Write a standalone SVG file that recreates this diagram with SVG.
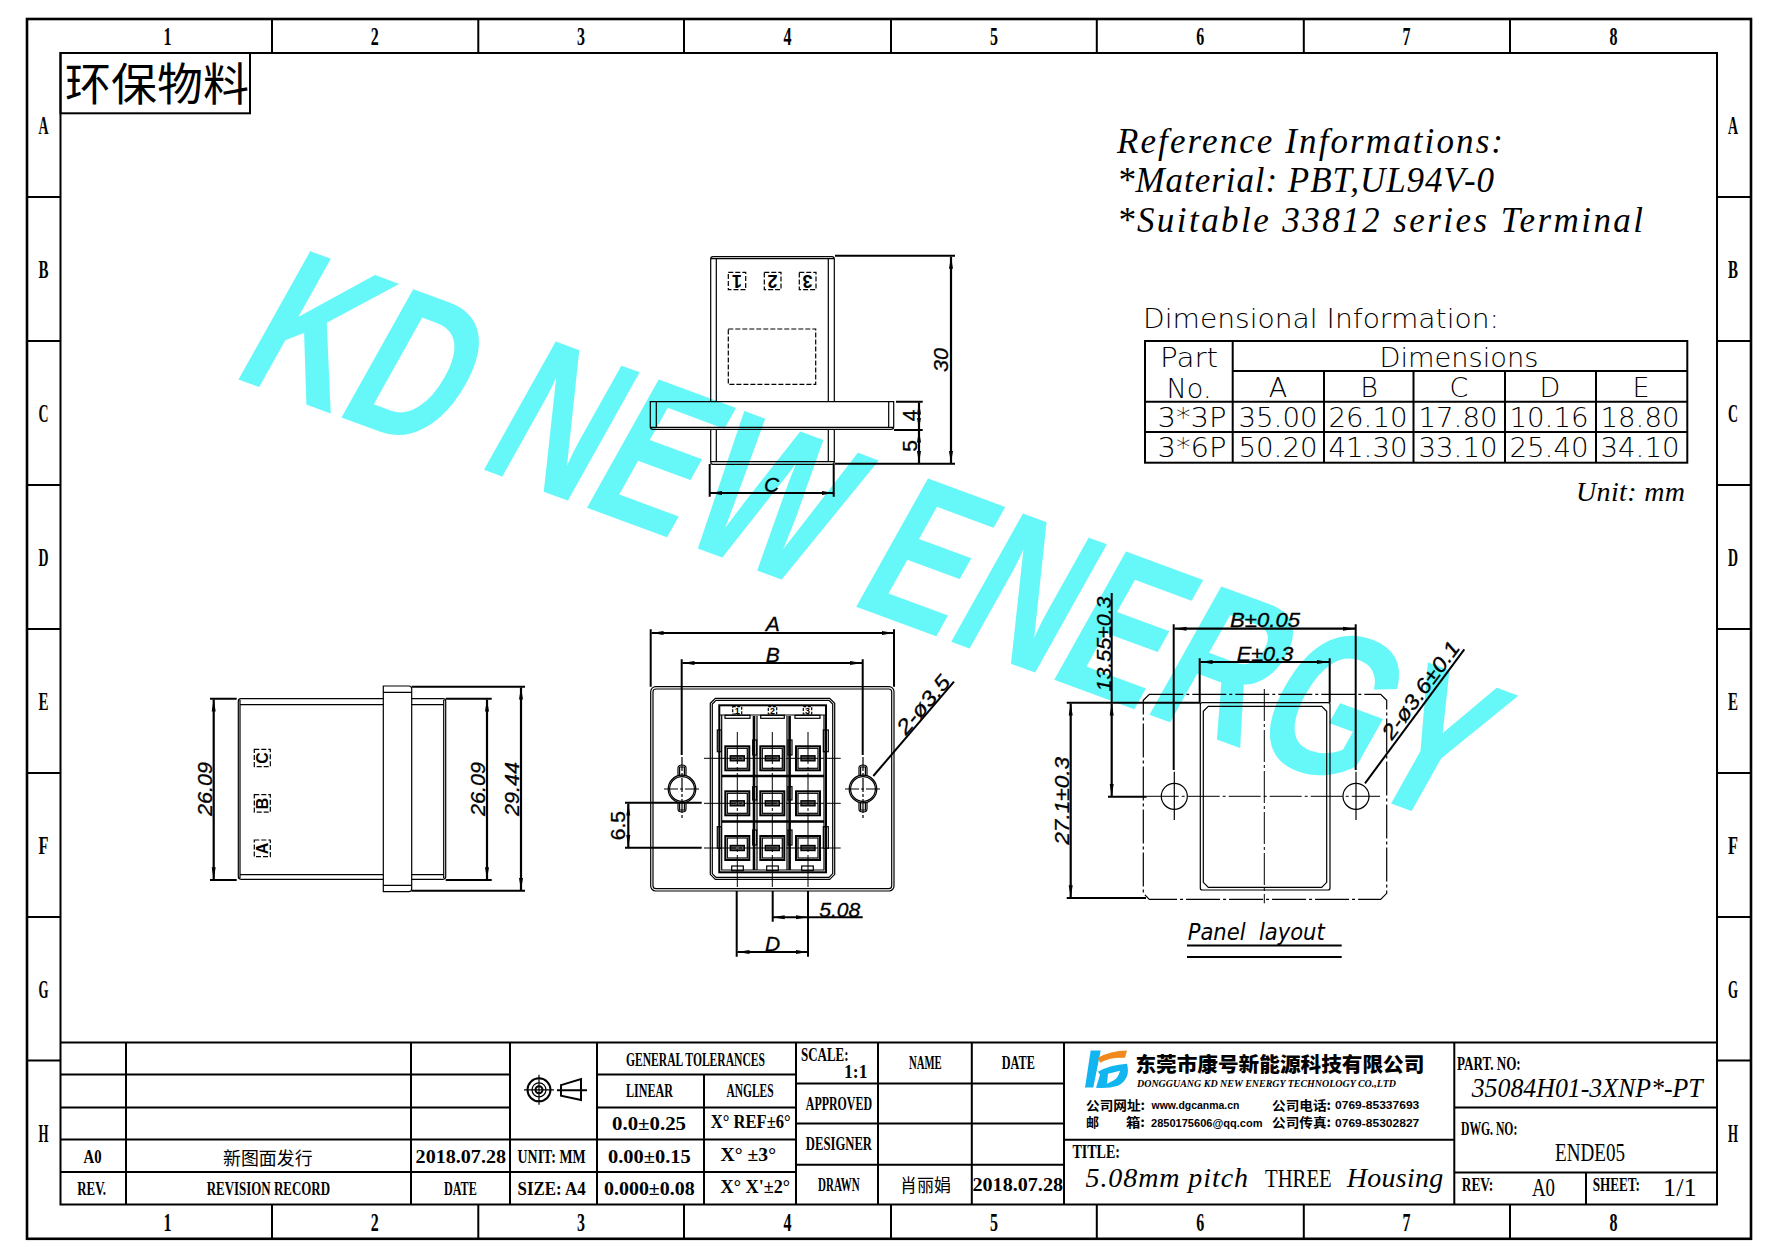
<svg xmlns="http://www.w3.org/2000/svg" width="1778" height="1257" viewBox="0 0 1778 1257">
<style>
text{fill:#000;white-space:pre}
.wm{font:700 211px "Liberation Sans",sans-serif;fill:#66f7f9}
.f{font:700 25px "Liberation Serif",serif}
.b{font:700 18px "Liberation Serif",serif}
.r{font:400 25px "Liberation Serif",serif}
.it{font:italic 400 35px "Liberation Serif",serif}
.l{font:200 27px "DejaVu Sans","Liberation Sans",sans-serif}
.d{font:italic 400 21px "Liberation Sans",sans-serif;stroke:#000;stroke-width:.3}
.c{font:400 18px "Noto Sans CJK SC",sans-serif}
.lb{font:700 13px "Noto Sans CJK SC",sans-serif}
.bs{font:700 11px "Liberation Sans",sans-serif}
.s1{stroke-width:1.2;fill:none;stroke:#000}
.s2{stroke-width:2;fill:none;stroke:#000}
.s3{stroke-width:2.6;fill:none;stroke:#000}
.dash{stroke-dasharray:5 2}
.cl{stroke-width:1;fill:none;stroke:#000;stroke-dasharray:32 3 3 3}
.dim{stroke:#000;stroke-width:2.2;fill:none;marker-start:url(#a);marker-end:url(#a)}
.ext{stroke:#000;stroke-width:2;fill:none}
</style>
<defs>
<marker id="a" markerUnits="userSpaceOnUse" markerWidth="13" markerHeight="6" refX="12" refY="3" orient="auto-start-reverse"><path d="M12,3 L0,1 L0,5 Z" fill="#000"/></marker>
<g id="term"><rect x="-12" y="-12" width="24" height="24" class="s2"/><rect x="-10" y="-10" width="20" height="20" class="s1"/><rect x="-7" y="-2.5" width="14" height="5" fill="#555" stroke="#000" stroke-width="1.4"/></g>
<g id="hole"><circle r="13.8" class="s1"/><circle r="12.4" class="s1"/><path class="s1" d="M-4,-13 V-21 Q-4,-24 0,-24 Q4,-24 4,-21 V-13 M-2.4,-13 V-22 H2.4 V-13 M-4,13 V20 Q-4,23 0,23 Q4,23 4,20 V13 M-2.4,13 V21 H2.4 V13"/></g>
</defs>

<text id="watermark" class="wm" transform="translate(229,376) rotate(20.2) skewX(-9) scale(0.72,1)">KD NEW ENERGY</text>

<g id="frame">
<rect x="27" y="19" width="1724" height="1219.8" class="s3"/>
<rect x="60.5" y="53" width="1656.5" height="1151.5" class="s2"/>
<path class="s2" d="M272,19V53M478.3,19V53M684,19V53M891,19V53M1096.8,19V53M1303.8,19V53M1510,19V53M272,1204.5V1238.8M478.3,1204.5V1238.8M684,1204.5V1238.8M891,1204.5V1238.8M1096.8,1204.5V1238.8M1303.8,1204.5V1238.8M1510,1204.5V1238.8"/>
<path class="s2" d="M27,197H61M27,341H61M27,485H61M27,629H61M27,773H61M27,917H61M27,1060.5H61M1717,197H1751M1717,341H1751M1717,485H1751M1717,629H1751M1717,773H1751M1717,917H1751M1717,1060.5H1751"/>
<g class="f" text-anchor="middle">
<text x="167.6" y="45" textLength="8" lengthAdjust="spacingAndGlyphs">1</text><text x="374.7" y="45" textLength="8" lengthAdjust="spacingAndGlyphs">2</text><text x="581" y="45" textLength="8" lengthAdjust="spacingAndGlyphs">3</text><text x="787.5" y="45" textLength="8" lengthAdjust="spacingAndGlyphs">4</text><text x="994" y="45" textLength="8" lengthAdjust="spacingAndGlyphs">5</text><text x="1200.3" y="45" textLength="8" lengthAdjust="spacingAndGlyphs">6</text><text x="1406.5" y="45" textLength="8" lengthAdjust="spacingAndGlyphs">7</text><text x="1613.5" y="45" textLength="8" lengthAdjust="spacingAndGlyphs">8</text>
<text x="167.6" y="1231" textLength="8" lengthAdjust="spacingAndGlyphs">1</text><text x="374.7" y="1231" textLength="8" lengthAdjust="spacingAndGlyphs">2</text><text x="581" y="1231" textLength="8" lengthAdjust="spacingAndGlyphs">3</text><text x="787.5" y="1231" textLength="8" lengthAdjust="spacingAndGlyphs">4</text><text x="994" y="1231" textLength="8" lengthAdjust="spacingAndGlyphs">5</text><text x="1200.3" y="1231" textLength="8" lengthAdjust="spacingAndGlyphs">6</text><text x="1406.5" y="1231" textLength="8" lengthAdjust="spacingAndGlyphs">7</text><text x="1613.5" y="1231" textLength="8" lengthAdjust="spacingAndGlyphs">8</text>
<text x="43.6" y="134" textLength="10" lengthAdjust="spacingAndGlyphs">A</text><text x="43.6" y="278" textLength="10" lengthAdjust="spacingAndGlyphs">B</text><text x="43.6" y="422" textLength="10" lengthAdjust="spacingAndGlyphs">C</text><text x="43.6" y="566" textLength="10" lengthAdjust="spacingAndGlyphs">D</text><text x="43.6" y="710" textLength="10" lengthAdjust="spacingAndGlyphs">E</text><text x="43.6" y="853.5" textLength="10" lengthAdjust="spacingAndGlyphs">F</text><text x="43.6" y="997.5" textLength="10" lengthAdjust="spacingAndGlyphs">G</text><text x="43.6" y="1142" textLength="10" lengthAdjust="spacingAndGlyphs">H</text>
<text x="1733" y="134" textLength="10" lengthAdjust="spacingAndGlyphs">A</text><text x="1733" y="278" textLength="10" lengthAdjust="spacingAndGlyphs">B</text><text x="1733" y="422" textLength="10" lengthAdjust="spacingAndGlyphs">C</text><text x="1733" y="566" textLength="10" lengthAdjust="spacingAndGlyphs">D</text><text x="1733" y="710" textLength="10" lengthAdjust="spacingAndGlyphs">E</text><text x="1733" y="853.5" textLength="10" lengthAdjust="spacingAndGlyphs">F</text><text x="1733" y="997.5" textLength="10" lengthAdjust="spacingAndGlyphs">G</text><text x="1733" y="1142" textLength="10" lengthAdjust="spacingAndGlyphs">H</text>
</g>
</g>

<g id="eco-mark">
<rect x="60.5" y="53" width="189.5" height="60.3" class="s2"/>
<text x="65" y="101" style="font:400 45px 'Noto Sans CJK SC',sans-serif" textLength="184" lengthAdjust="spacingAndGlyphs">环保物料</text>
</g>

<g id="notes">
<text class="it" x="1117" y="153" textLength="386">Reference Informations:</text>
<text class="it" x="1117" y="192" textLength="377">*Material: PBT,UL94V-0</text>
<text class="it" x="1117" y="231.5" textLength="526">*Suitable 33812 series Terminal</text>
<text class="it" x="1576" y="500.5" style="font-size:28px" textLength="109">Unit: mm</text>
</g>

<g id="dimension-table">
<text class="l" x="1143" y="327.5" textLength="356" lengthAdjust="spacingAndGlyphs">Dimensional Information:</text>
<rect x="1145" y="341" width="542.3" height="121.7" class="s2"/>
<path class="s2" d="M1232.7,341V462.7M1232.7,371H1687.3M1145,401.7H1687.3M1145,432H1687.3M1324,371V462.7M1413.5,371V462.7M1505,371V462.7M1596,371V462.7"/>
<g class="l" text-anchor="middle">
<text x="1189" y="366.5" textLength="58" lengthAdjust="spacingAndGlyphs">Part</text>
<text x="1189" y="397.7" textLength="45" lengthAdjust="spacingAndGlyphs">No.</text>
<text x="1459" y="367" textLength="159" lengthAdjust="spacingAndGlyphs">Dimensions</text>
<text x="1278" y="396.7">A</text><text x="1369" y="396.7">B</text><text x="1459" y="396.7">C</text><text x="1550" y="396.7">D</text><text x="1641" y="396.7">E</text>
<text x="1192" y="426.7" textLength="69" lengthAdjust="spacingAndGlyphs">3*3P</text>
<text x="1278" y="426.7" textLength="79" lengthAdjust="spacingAndGlyphs">35.00</text><text x="1368" y="426.7" textLength="79" lengthAdjust="spacingAndGlyphs">26.10</text><text x="1458" y="426.7" textLength="79" lengthAdjust="spacingAndGlyphs">17.80</text><text x="1549" y="426.7" textLength="79" lengthAdjust="spacingAndGlyphs">10.16</text><text x="1640" y="426.7" textLength="79" lengthAdjust="spacingAndGlyphs">18.80</text>
<text x="1192" y="457" textLength="69" lengthAdjust="spacingAndGlyphs">3*6P</text>
<text x="1278" y="457" textLength="79" lengthAdjust="spacingAndGlyphs">50.20</text><text x="1368" y="457" textLength="79" lengthAdjust="spacingAndGlyphs">41.30</text><text x="1458" y="457" textLength="79" lengthAdjust="spacingAndGlyphs">33.10</text><text x="1549" y="457" textLength="79" lengthAdjust="spacingAndGlyphs">25.40</text><text x="1640" y="457" textLength="79" lengthAdjust="spacingAndGlyphs">34.10</text>
</g>
</g>

<g id="view-top">
<path class="s1" d="M710.7,401.7V259Q710.7,256.7 713,256.7H832Q834.3,256.7 834.3,259V401.7M716.3,401.7V258.7M828.3,401.7V258.7M711,258.7H834"/>
<path class="s1" d="M710.7,429.3V462Q710.7,464.3 713,464.3H832Q834.3,464.3 834.3,462V429.3M716.3,429.3V461.7M828.3,429.3V461.7M711,461.7H834"/>
<path class="s1" d="M652,401.7H893.7V427Q893.7,429.3 891,429.3H653Q650.3,429.3 650.3,427V401.7H652M656.3,401.7V427.3M888.7,401.7V427.3M651,427.3H893"/>
<rect x="728.3" y="329" width="87.4" height="55.3" class="s1 dash"/>
<rect x="728.3" y="272.3" width="17.4" height="17.4" class="s1 dash"/>
<rect x="764.3" y="272.3" width="16.7" height="17.4" class="s1 dash"/>
<rect x="799.3" y="272.3" width="16.7" height="17.4" class="s1 dash"/>
<g style="font:700 18px 'Liberation Sans',sans-serif" text-anchor="middle">
<text transform="translate(737,274.5) rotate(180)">1</text>
<text transform="translate(772.6,274.5) rotate(180)">2</text>
<text transform="translate(807.6,274.5) rotate(180)">3</text>
</g>
</g>

<g id="view-left">
<path class="s1" d="M383.3,698.7H241Q238.3,698.7 238.3,701.4V876.6Q238.3,879.3 241,879.3H383.3M383.3,704.7H240M383.3,874.7H240M240,700V878"/>
<path class="s1" d="M411.7,698.7H443Q445.7,698.7 445.7,701.4V876.6Q445.7,879.3 443,879.3H411.7M411.7,704.7H443.7M411.7,874.7H443.7M443.7,700V878"/>
<path class="s1" d="M383.3,686H409Q411.7,686 411.7,689V888.7Q411.7,891.7 409,891.7H383.3ZM383.3,692.3H411.7M383.3,885.3H411.7"/>
<rect x="254.3" y="749.3" width="16" height="17.4" class="s1 dash"/>
<rect x="254.3" y="794.7" width="16" height="17.4" class="s1 dash"/>
<rect x="254.3" y="840" width="16" height="16.7" class="s1 dash"/>
<g style="font:700 16px 'Liberation Sans',sans-serif" text-anchor="middle">
<text transform="translate(268,758) rotate(-90)">C</text>
<text transform="translate(268,803.4) rotate(-90)">B</text>
<text transform="translate(268,848.4) rotate(-90)">A</text>
</g>
</g>

<g id="view-front">
<rect x="650.7" y="686.7" width="243.3" height="204.3" rx="5" class="s1"/>
<rect x="653" y="689" width="238.7" height="199.7" rx="3" class="s1"/>
<path class="s1" d="M715.3,698.3H829.7L834.7,703.3V874.3L829.7,879.3H715.3L710.3,874.3V703.3Z"/>
<path class="s1" d="M716,700.3H829L832.7,704V873.6L829,877.3H716L712.3,873.6V704Z"/>
<rect x="719.3" y="705.3" width="106.7" height="167" class="s2"/>
<path class="s1" d="M719.3,715H826"/>
<path class="s1" d="M721.7,715V870H824V715"/>
<path class="s3" d="M754,716V870M789.6,716V870M722,776H824M722,821.5H824"/>
<path class="s1" d="M757,716V870M787,716V870"/>
<g class="s1">
<rect x="725" y="715.3" width="25" height="3"/><rect x="760.7" y="715.3" width="23.6" height="3"/><rect x="795" y="715.3" width="25" height="3"/>
<rect x="731.7" y="866" width="11.6" height="4.7"/><rect x="766.7" y="866" width="11.6" height="4.7"/><rect x="801.7" y="866" width="11.6" height="4.7"/>
<rect x="717.3" y="730" width="4" height="21.7"/><rect x="823.3" y="730" width="5" height="21.7"/>
<rect x="717.3" y="826.7" width="4" height="21.6"/><rect x="823.3" y="826.7" width="5" height="21.6"/>
<rect x="752.7" y="740" width="4" height="15"/><rect x="752.7" y="786.7" width="4" height="13.3"/><rect x="752.7" y="830" width="4" height="15"/>
<rect x="788" y="740" width="4" height="15"/><rect x="788" y="786.7" width="4" height="13.3"/><rect x="788" y="830" width="4" height="15"/>
<rect x="732.7" y="706.7" width="9" height="7.3" stroke-dasharray="3 1.5"/><rect x="768.3" y="706.7" width="8.4" height="7.3" stroke-dasharray="3 1.5"/><rect x="803.3" y="706.7" width="8.4" height="7.3" stroke-dasharray="3 1.5"/>
</g>
<g style="font:700 9px 'Liberation Sans',sans-serif" text-anchor="middle"><text x="737.2" y="713.5">1</text><text x="772.5" y="713.5">2</text><text x="807.5" y="713.5">3</text></g>
<use href="#term" x="737.3" y="758.3"/><use href="#term" x="772.3" y="758.3"/><use href="#term" x="808" y="758.3"/>
<use href="#term" x="737.3" y="803.3"/><use href="#term" x="772.3" y="803.3"/><use href="#term" x="808" y="803.3"/>
<use href="#term" x="737.3" y="848"/><use href="#term" x="772.3" y="848"/><use href="#term" x="808" y="848"/>
<path class="cl" d="M737.3,732V888M772.3,732V888M808,732V888M704,758.3H840.7M704,803.3H840.7M704,848H840.7"/>
<use href="#hole" x="682" y="789"/><use href="#hole" x="863" y="789"/>
<path class="s1" d="M664,789H700M682,757V818M845,789H881.7M863,757V818" stroke-dasharray="14 2 3 2"/>
</g>

<g id="view-panel">
<path class="s1" stroke-width="1" stroke-dasharray="34 3 3 3" d="M1149.3,694.3H1380.7L1386.7,700.3V893.3L1380.7,899.3H1149.3L1143.3,893.3V700.3Z"/>
<rect x="1200.3" y="702.7" width="129.7" height="187.3" rx="2" class="s1"/>
<path class="s1" d="M1208.3,706.3H1321.7L1326.7,711.3V882.3L1321.7,887.3H1208.3L1203.3,882.3V711.3Z"/>
<circle cx="1174.3" cy="796.3" r="13" class="s1"/>
<circle cx="1356" cy="796.3" r="13" class="s1"/>
<path class="cl" d="M1146.7,796.3H1380M1264.3,689V903.3"/>
<path class="s1" d="M1174.3,771.7V820M1356,771.7V820"/>
<text x="1187.7" y="940" style="font:italic 200 23px 'DejaVu Sans','Liberation Sans',sans-serif" textLength="137" lengthAdjust="spacingAndGlyphs">Panel  layout</text>
<path class="s2" d="M1187,945.5H1341.7M1187,957H1341.7"/>
</g>

<g id="connectors">
<path class="ext" d="M835,255.7H955M835,463.7H955M896,401.7H922.7M894,430H922.7M709.7,464V496.7M833.7,464V496.7"/>
<line class="dim" x1="951" y1="256.7" x2="951" y2="463"/>
<line class="dim" x1="919" y1="402.5" x2="919" y2="429.5"/>
<line class="dim" x1="919" y1="430.5" x2="919" y2="463"/>
<line class="dim" x1="710" y1="493" x2="833.5" y2="493"/>
<path class="ext" d="M210,698.7H236.7M210,880H236.7M445.7,698.7H491.7M445.7,880H491.7M411.7,686.7H525M411.7,890.7H525"/>
<line class="dim" x1="213.7" y1="699.5" x2="213.7" y2="879.3"/>
<line class="dim" x1="487" y1="699.5" x2="487" y2="879.3"/>
<line class="dim" x1="521" y1="687.5" x2="521" y2="890"/>
<path class="ext" d="M650.7,629.3V686.7M894,629.3V686.7M681.7,659.3V755M862.7,659.3V755M625,802.7H701.7M625,847.7H701.7M736.7,891V956.7M808,891V956.7M772.7,891V921.7"/>
<line class="dim" x1="651.5" y1="633" x2="893.5" y2="633"/>
<line class="dim" x1="682.5" y1="663" x2="862" y2="663"/>
<line class="dim" x1="628.3" y1="803.5" x2="628.3" y2="847"/>
<line class="dim" x1="737.5" y1="952" x2="807.5" y2="952"/>
<path class="ext" d="M772.7,917.3H862.7"/>
<path d="M772.7,917.3l12,-2v4zM808,917.3l-12,-2v4z" fill="#000"/>
<path class="ext" d="M873.3,776L954,681.7"/>
<path class="ext" d="M1173.7,624.3V770M1355.7,624.3V770M1199.7,658.3V702.7M1329.7,658.3V702.7M1066.7,702.7H1200M1066.7,898H1146M1108,796.7H1146.7M1111.7,593V702.7"/>
<line class="dim" x1="1174.5" y1="628.7" x2="1355" y2="628.7"/>
<line class="dim" x1="1200.5" y1="662" x2="1329" y2="662"/>
<line class="dim" x1="1070.7" y1="703.5" x2="1070.7" y2="897.3"/>
<line class="dim" x1="1111.7" y1="703.5" x2="1111.7" y2="796"/>
<path class="ext" d="M1365,783.3L1464.3,649.3"/>
</g>

<g id="dimension-labels" class="d">
<text transform="translate(947.5,360) rotate(-90)" text-anchor="middle" textLength="24" lengthAdjust="spacingAndGlyphs">30</text>
<text transform="translate(916.5,415.5) rotate(-90)" text-anchor="middle" style="font-style:normal">4</text>
<text transform="translate(916.5,446) rotate(-90)" text-anchor="middle" style="font-style:normal">5</text>
<text x="771.7" y="491.5" text-anchor="middle">C</text>
<text transform="translate(212,789) rotate(-90)" text-anchor="middle" textLength="54" lengthAdjust="spacingAndGlyphs">26.09</text>
<text transform="translate(485,789) rotate(-90)" text-anchor="middle" textLength="54" lengthAdjust="spacingAndGlyphs">26.09</text>
<text transform="translate(519,789) rotate(-90)" text-anchor="middle" textLength="54" lengthAdjust="spacingAndGlyphs">29.44</text>
<text x="772.7" y="631" text-anchor="middle">A</text>
<text x="772.7" y="661.7" text-anchor="middle">B</text>
<text transform="translate(625,825.7) rotate(-90)" text-anchor="middle" style="font-style:normal">6.5</text>
<text x="819.3" y="916.5" textLength="41" lengthAdjust="spacingAndGlyphs">5.08</text>
<text x="772.7" y="950.5" text-anchor="middle">D</text>
<text transform="translate(906,736) rotate(-49.4)" textLength="70" lengthAdjust="spacingAndGlyphs">2-ø3.5</text>
<text x="1230" y="626.5" textLength="70" lengthAdjust="spacingAndGlyphs">B±0.05</text>
<text x="1236.7" y="660.5" textLength="56.6" lengthAdjust="spacingAndGlyphs">E±0.3</text>
<text transform="translate(1069.3,800.8) rotate(-90)" text-anchor="middle" textLength="88" lengthAdjust="spacingAndGlyphs">27.1±0.3</text>
<text transform="translate(1110.5,644) rotate(-90)" text-anchor="middle" textLength="95" lengthAdjust="spacingAndGlyphs">13.55±0.3</text>
<text transform="translate(1392,741) rotate(-53.5)" textLength="116" lengthAdjust="spacingAndGlyphs">2-ø3.6±0.1</text>
</g>

<g id="title-block" transform="translate(0,0.8)">
<path class="s2" d="M60.5,1041.7H1717M60.5,1073.7H510M60.5,1106.7H510M60.5,1138.7H796M60.5,1171.3H796M597,1073.7H796M597,1106.7H796"/>
<path class="s2" d="M126,1041.7V1203.7M411,1041.7V1203.7M510,1041.7V1203.7M597,1041.7V1203.7M704,1073.7V1203.7M796,1041.7V1203.7M878,1041.7V1203.7M971.8,1041.7V1203.7M1064,1041.7V1203.7M1454.3,1041.7V1203.7M1586,1171.7V1203.7"/>
<path class="s2" d="M796,1082.7H1064M796,1122.7H1064M796,1164H1064M1064,1139H1454.3M1454.3,1106.7H1717M1454.3,1171.7H1717"/>
<circle cx="539" cy="1089" r="11.5" class="s2"/><circle cx="539" cy="1089" r="7" class="s1"/><circle cx="539" cy="1089" r="3.5" class="s2"/>
<path class="s1" d="M524,1089H554M539,1074V1104"/>
<path class="s2" d="M561,1084.3L581,1078.3V1099.3L561,1095ZM557,1089.5H587"/>
<g class="b">
<text x="626" y="1065" textLength="139" lengthAdjust="spacingAndGlyphs">GENERAL TOLERANCES</text>
<text x="626" y="1096.7" textLength="47" lengthAdjust="spacingAndGlyphs">LINEAR</text>
<text x="726.5" y="1096.7" textLength="47" lengthAdjust="spacingAndGlyphs">ANGLES</text>
<text x="612" y="1129.3" textLength="74" lengthAdjust="spacingAndGlyphs">0.0±0.25</text>
<text x="710.7" y="1127" textLength="80" lengthAdjust="spacingAndGlyphs">X° REF±6°</text>
<text x="83.5" y="1162.7" textLength="18" lengthAdjust="spacingAndGlyphs">A0</text>
<text x="415.6" y="1162.7" textLength="90.4" lengthAdjust="spacingAndGlyphs">2018.07.28</text>
<text x="517.6" y="1162.3" textLength="68" lengthAdjust="spacingAndGlyphs">UNIT: MM</text>
<text x="608" y="1162.7" textLength="82.7" lengthAdjust="spacingAndGlyphs">0.00±0.15</text>
<text x="720.6" y="1160.7" textLength="55.4" lengthAdjust="spacingAndGlyphs">X° ±3°</text>
<text x="77.3" y="1194" textLength="28.7" lengthAdjust="spacingAndGlyphs">REV.</text>
<text x="206.7" y="1194" textLength="123.3" lengthAdjust="spacingAndGlyphs">REVISION RECORD</text>
<text x="444" y="1194" textLength="32.8" lengthAdjust="spacingAndGlyphs">DATE</text>
<text x="517.6" y="1194" textLength="68" lengthAdjust="spacingAndGlyphs">SIZE: A4</text>
<text x="604" y="1194" textLength="90.7" lengthAdjust="spacingAndGlyphs">0.000±0.08</text>
<text x="720.6" y="1192" textLength="69.4" lengthAdjust="spacingAndGlyphs">X° X'±2°</text>
<text x="801" y="1060" textLength="47.5" lengthAdjust="spacingAndGlyphs">SCALE:</text>
<text x="844" y="1077" textLength="23.5" lengthAdjust="spacingAndGlyphs">1:1</text>
<text x="909" y="1068.5" textLength="32.7" lengthAdjust="spacingAndGlyphs">NAME</text>
<text x="1001.8" y="1068.5" textLength="33" lengthAdjust="spacingAndGlyphs">DATE</text>
<text x="805.8" y="1108.8" textLength="66.2" lengthAdjust="spacingAndGlyphs">APPROVED</text>
<text x="805.8" y="1149.5" textLength="66.2" lengthAdjust="spacingAndGlyphs">DESIGNER</text>
<text x="818" y="1190" textLength="41.6" lengthAdjust="spacingAndGlyphs">DRAWN</text>
<text x="972.5" y="1190" textLength="90.5" lengthAdjust="spacingAndGlyphs">2018.07.28</text>
<text x="1072.4" y="1157.5" textLength="47.6" lengthAdjust="spacingAndGlyphs">TITLE:</text>
<text x="1457" y="1068.8" textLength="63.7" lengthAdjust="spacingAndGlyphs">PART. NO:</text>
<text x="1461" y="1133.8" textLength="56.3" lengthAdjust="spacingAndGlyphs">DWG. NO:</text>
<text x="1461.7" y="1190" textLength="31.6" lengthAdjust="spacingAndGlyphs">REV:</text>
<text x="1592.7" y="1190" textLength="47.3" lengthAdjust="spacingAndGlyphs">SHEET:</text>
</g>
<text class="c" x="223" y="1164" textLength="89.6" lengthAdjust="spacingAndGlyphs">新图面发行</text>
<text class="c" x="900" y="1191.5" textLength="51" lengthAdjust="spacingAndGlyphs">肖丽娟</text>
<text class="it" x="1085.5" y="1186.7" style="font-size:28px" textLength="162.5">5.08mm pitch</text>
<text class="r" x="1265" y="1186.7" textLength="66.7" lengthAdjust="spacingAndGlyphs">THREE</text>
<text class="it" x="1346.7" y="1186.7" style="font-size:28px" textLength="96.6">Housing</text>
<text class="it" x="1471.7" y="1096" style="font-size:28px" textLength="231" lengthAdjust="spacingAndGlyphs">35084H01-3XNP*-PT</text>
<text class="r" x="1555" y="1160" textLength="70" lengthAdjust="spacingAndGlyphs">ENDE05</text>
<text class="r" x="1532" y="1195.7" textLength="23" lengthAdjust="spacingAndGlyphs">A0</text>
<text class="r" x="1663" y="1195.7" textLength="33.7" lengthAdjust="spacingAndGlyphs">1/1</text>

<g id="company-logo">
<path fill="#12b5f0" d="M1090.7,1049.7H1100.7L1093.3,1086.7H1085Z"/>
<path fill="#12b5f0" fill-rule="evenodd" d="M1098,1071Q1110,1064 1127,1063Q1131,1078 1118,1085Q1108,1088 1096,1087L1100,1074ZM1108,1073L1120,1070Q1118,1078 1113,1080L1107,1083Z"/>
<path fill="#f08a1e" d="M1098,1057Q1110,1050 1127,1049.7L1125,1057Q1110,1056 1100,1062Z"/>
<text x="1135.4" y="1071" style="font:900 20px 'Noto Sans CJK SC',sans-serif" textLength="289" lengthAdjust="spacingAndGlyphs">东莞市康号新能源科技有限公司</text>
<text x="1137" y="1086.5" style="font:italic 700 11px 'Liberation Serif',serif" textLength="259" lengthAdjust="spacingAndGlyphs">DONGGUANG KD NEW ENERGY TECHNOLOGY CO.,LTD</text>
<text class="lb" x="1086" y="1109" textLength="59" lengthAdjust="spacingAndGlyphs">公司网址:</text>
<text class="bs" x="1151.6" y="1108.5" textLength="87.8" lengthAdjust="spacingAndGlyphs">www.dgcanma.cn</text>
<text class="lb" x="1272" y="1109" textLength="59" lengthAdjust="spacingAndGlyphs">公司电话:</text>
<text class="bs" x="1335" y="1108.5" textLength="84.3" lengthAdjust="spacingAndGlyphs">0769-85337693</text>
<text class="lb" x="1086" y="1126.5" textLength="14">邮</text>
<text class="lb" x="1126" y="1126.5" textLength="19" lengthAdjust="spacingAndGlyphs">箱:</text>
<text class="bs" x="1151" y="1126" textLength="111.5" lengthAdjust="spacingAndGlyphs">2850175606@qq.com</text>
<text class="lb" x="1272" y="1126.5" textLength="59" lengthAdjust="spacingAndGlyphs">公司传真:</text>
<text class="bs" x="1335" y="1126" textLength="84.3" lengthAdjust="spacingAndGlyphs">0769-85302827</text>
</g>
</g>
</svg>
